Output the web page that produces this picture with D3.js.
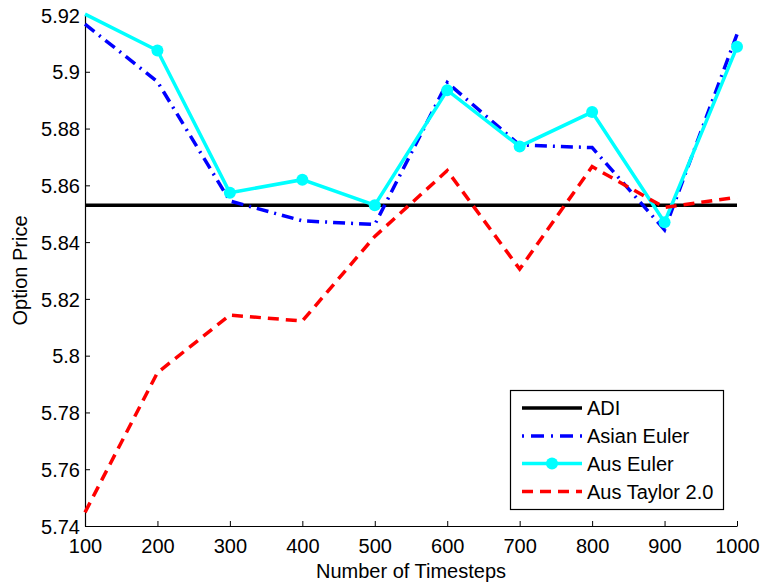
<!DOCTYPE html>
<html>
<head>
<meta charset="utf-8">
<script src="https://cdn.jsdelivr.net/npm/d3@7"></script>
<style>
  html, body { margin: 0; padding: 0; background: #fff; }
  svg { display: block; font-family: "Liberation Sans", Arial, sans-serif; }
</style>
</head>
<body>
<svg id="chart" width="760" height="582"></svg>
<script>
const timesteps = [100, 200, 300, 400, 500, 600, 700, 800, 900, 1000];
const adi = 5.853;
const asianEuler = [5.9168, 5.8965, 5.8545, 5.8475, 5.8462, 5.8962, 5.8742, 5.8733, 5.8443, 5.9132];
const ausEuler   = [5.9203, 5.9075, 5.8574, 5.8620, 5.8530, 5.8935, 5.8737, 5.8858, 5.8470, 5.9088];
const ausTaylor  = [5.7448, 5.7940, 5.8143, 5.8122, 5.8420, 5.8652, 5.8305, 5.8666, 5.8522, 5.8558];
const yTicks = [5.74, 5.76, 5.78, 5.80, 5.82, 5.84, 5.86, 5.88, 5.90, 5.92];
const yTickLabels = ["5.74", "5.76", "5.78", "5.8", "5.82", "5.84", "5.86", "5.88", "5.9", "5.92"];
const xTicks = [100, 200, 300, 400, 500, 600, 700, 800, 900, 1000];
const seriesNames = ["ADI", "Asian Euler", "Aus Euler", "Aus Taylor 2.0"];

(function () {
const svg = d3.select("#chart");
const mL = 85, mR = 737, mT = 15, mB = 526;
const FS = "20px";

const x = d3.scaleLinear().domain([100, 1000]).range([mL, mR]);
const y = d3.scaleLinear().domain([5.74, 5.92]).range([mB, mT]);

const xAxis = d3.axisBottom(x).tickValues(xTicks).tickSizeInner(-5).tickSizeOuter(0).tickFormat(d3.format("d"));
const yAxis = d3.axisLeft(y).tickValues(yTicks).tickSizeInner(-5).tickSizeOuter(0)
  .tickFormat((d, i) => yTickLabels[i]);

const gx = svg.append("g").attr("transform", `translate(0,${mB})`).call(xAxis);
const gy = svg.append("g").attr("transform", `translate(${mL},0)`).call(yAxis);
[gx, gy].forEach(g => {
  g.selectAll("path.domain").attr("stroke", "#000").attr("stroke-width", 1.2);
  g.selectAll(".tick line").attr("stroke", "#000").attr("stroke-width", 1);
  g.selectAll(".tick text").attr("fill", "#000").style("font-size", FS).style("font-family", "Liberation Sans, Arial, sans-serif");
});
gx.selectAll(".tick text").attr("dy", null).attr("y", 27);
gy.selectAll(".tick text").attr("x", -5).attr("dy", "0.36em");

svg.append("text").attr("x", (mL + mR) / 2).attr("y", 578)
  .attr("text-anchor", "middle").style("font-size", FS).text("Number of Timesteps");
svg.append("text").attr("transform", `translate(27,${(mT + mB) / 2}) rotate(-90)`)
  .attr("text-anchor", "middle").style("font-size", FS).text("Option Price");

const line = d3.line().x((d, i) => x(timesteps[i])).y(d => y(d));

svg.append("line").attr("x1", x(100)).attr("x2", x(1000)).attr("y1", y(adi)).attr("y2", y(adi))
  .attr("stroke", "#000").attr("stroke-width", 3.5);

svg.append("path").datum(asianEuler).attr("d", line).attr("fill", "none")
  .attr("stroke", "#0000ff").attr("stroke-width", 3.5).attr("stroke-dasharray", "12,6,2,6");

svg.append("path").datum(ausEuler).attr("d", line).attr("fill", "none")
  .attr("stroke", "#00ffff").attr("stroke-width", 3.5);
const [yLo, yHi] = y.domain();
const markerPts = ausEuler.map((v, i) => ({ t: timesteps[i], v })).filter(p => p.v >= yLo && p.v <= yHi);
svg.selectAll("circle.aus").data(markerPts).enter().append("circle").attr("class", "aus")
  .attr("cx", p => x(p.t)).attr("cy", p => y(p.v)).attr("r", 6).attr("fill", "#00ffff");

svg.append("path").datum(ausTaylor).attr("d", line).attr("fill", "none")
  .attr("stroke", "#ff0000").attr("stroke-width", 3.5).attr("stroke-dasharray", "11,7");

const lg = svg.append("g");
lg.append("rect").attr("x", 510.5).attr("y", 390.5).attr("width", 213).attr("height", 119)
  .attr("fill", "#fff").attr("stroke", "#000").attr("stroke-width", 1.2);
const styles = [
  { color: "#000", dash: null, marker: false },
  { color: "#0000ff", dash: "2,7,13,7", marker: false },
  { color: "#00ffff", dash: null, marker: true },
  { color: "#ff0000", dash: "11,7", marker: false }
];
const ly = [408, 436, 463.5, 491.5];
seriesNames.forEach((name, i) => {
  const s = styles[i];
  const ln = lg.append("line").attr("x1", 522).attr("x2", 582).attr("y1", ly[i]).attr("y2", ly[i])
    .attr("stroke", s.color).attr("stroke-width", 3.5);
  if (s.dash) ln.attr("stroke-dasharray", s.dash);
  if (s.marker) lg.append("circle").attr("cx", 552).attr("cy", ly[i]).attr("r", 6).attr("fill", s.color);
  lg.append("text").attr("x", 587).attr("y", ly[i]).attr("dy", "0.36em")
    .style("font-size", FS).text(name);
});
})();
</script>
</body>
</html>
